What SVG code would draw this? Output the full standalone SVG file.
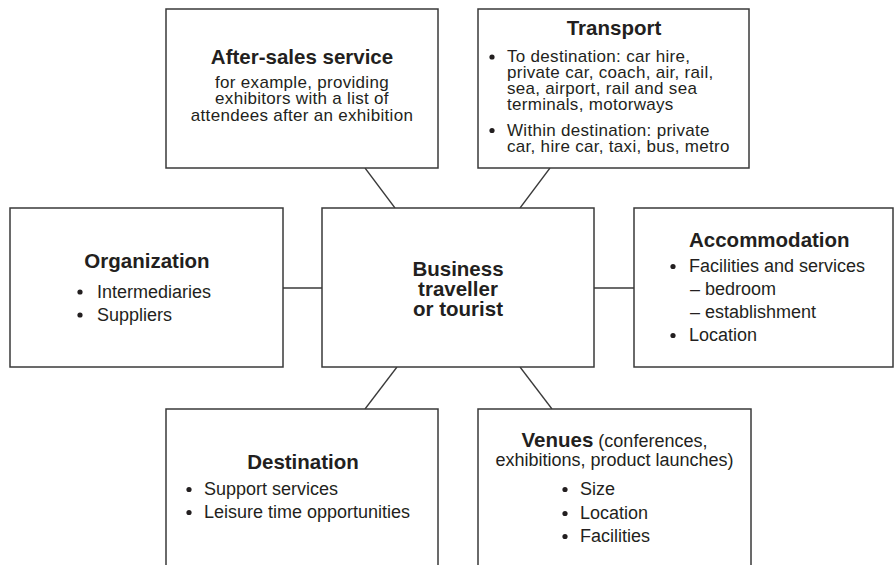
<svg xmlns="http://www.w3.org/2000/svg" width="894" height="565" viewBox="0 0 894 565">
<style>
.box{fill:#fff;stroke:#3a3a3a;stroke-width:1.5}
.con line{stroke:#3a3a3a;stroke-width:1.3}
text{font-family:"Liberation Sans",Arial,Helvetica,sans-serif;fill:#231f20}
.t{font-size:20.5px;font-weight:bold}
.b{font-size:18px}
.s{font-size:17px;letter-spacing:0.3px}
.m{text-anchor:middle}
circle{fill:#231f20}
</style>
<rect width="894" height="565" fill="#fff"/>
<g class="con">
<line x1="365" y1="168" x2="395" y2="208"/>
<line x1="550" y1="168" x2="520" y2="208"/>
<line x1="283" y1="288" x2="322" y2="288"/>
<line x1="594" y1="288" x2="634" y2="288"/>
<line x1="397" y1="367" x2="365" y2="409"/>
<line x1="520" y1="367" x2="552" y2="409"/>
</g>
<g id="aftersales">
<rect class="box" x="166" y="9" width="272" height="159"/>
<text class="t m" x="302" y="64">After-sales service</text>
<text class="s m" x="302" y="87.5">for example, providing</text>
<text class="s m" x="302" y="104">exhibitors with a list of</text>
<text class="s m" x="302" y="120.5">attendees after an exhibition</text>
</g>
<g id="transport">
<rect class="box" x="478" y="9" width="271" height="159"/>
<text class="t m" x="614" y="35">Transport</text>
<circle cx="492" cy="57" r="2.6"/>
<text class="s" x="507" y="62">To destination: car hire,</text>
<text class="s" x="507" y="78">private car, coach, air, rail,</text>
<text class="s" x="507" y="94">sea, airport, rail and sea</text>
<text class="s" x="507" y="110">terminals, motorways</text>
<circle cx="492" cy="130.5" r="2.6"/>
<text class="s" x="507" y="135.5">Within destination: private</text>
<text class="s" x="507" y="151.5">car, hire car, taxi, bus, metro</text>
</g>
<g id="organization">
<rect class="box" x="10" y="208" width="273" height="159"/>
<text class="t m" x="147" y="268">Organization</text>
<circle cx="80" cy="292" r="2.6"/>
<text class="b" x="97" y="297.5">Intermediaries</text>
<circle cx="80" cy="315" r="2.6"/>
<text class="b" x="97" y="320.5">Suppliers</text>
</g>
<g id="center">
<rect class="box" x="322" y="208" width="272" height="159"/>
<text class="t m" x="458" y="275.5">Business</text>
<text class="t m" x="458" y="295.5">traveller</text>
<text class="t m" x="458" y="315.5">or tourist</text>
</g>
<g id="accommodation">
<rect class="box" x="634" y="208" width="259" height="159"/>
<text class="t" x="689" y="247">Accommodation</text>
<circle cx="673" cy="266.5" r="2.6"/>
<text class="b" x="689" y="272">Facilities and services</text>
<text class="b" x="690" y="295">– bedroom</text>
<text class="b" x="690" y="318">– establishment</text>
<circle cx="673" cy="335.5" r="2.6"/>
<text class="b" x="689" y="341">Location</text>
</g>
<g id="destination">
<rect class="box" x="166" y="409" width="272" height="170"/>
<text class="t m" x="303" y="469">Destination</text>
<circle cx="189" cy="489.5" r="2.6"/>
<text class="b" x="204" y="495">Support services</text>
<circle cx="189" cy="512.5" r="2.6"/>
<text class="b" x="204" y="518">Leisure time opportunities</text>
</g>
<g id="venues">
<rect class="box" x="478" y="409" width="273" height="170"/>
<text class="b m" x="614.5" y="447"><tspan class="t">Venues</tspan> (conferences,</text>
<text class="b m" x="614.5" y="466">exhibitions, product launches)</text>
<circle cx="565" cy="489.5" r="2.6"/>
<text class="b" x="580" y="495">Size</text>
<circle cx="565" cy="513.5" r="2.6"/>
<text class="b" x="580" y="519">Location</text>
<circle cx="565" cy="536.5" r="2.6"/>
<text class="b" x="580" y="542">Facilities</text>
</g>
</svg>
